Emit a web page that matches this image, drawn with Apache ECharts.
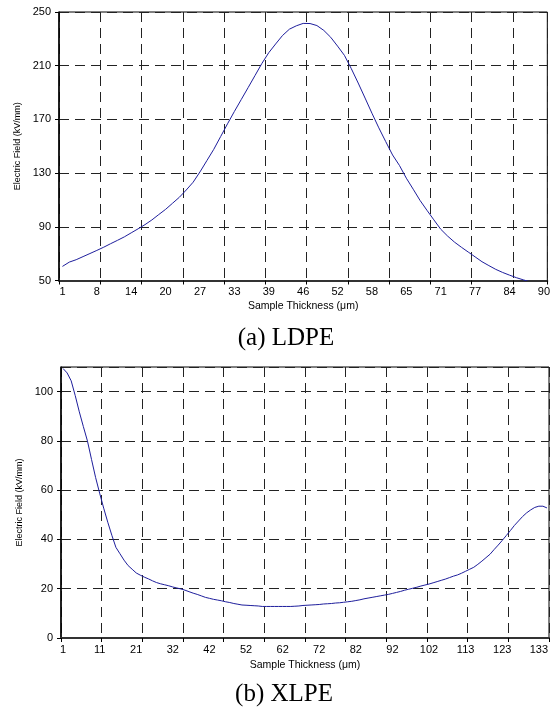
<!DOCTYPE html>
<html>
<head>
<meta charset="utf-8">
<script src="https://cdn.jsdelivr.net/npm/echarts@6/dist/echarts.min.js"></script>
<style>
html,body{margin:0;padding:0;background:#fff;}
#chart{width:553px;height:708px;}
</style>
</head>
<body>
<div id="chart"></div>
<script>
// ---- Data ----
const ldpeTickLabels = ['1','8','14','20','27','33','39','46','52','58','65','71','77','84','90'];
const xlpeTickLabels = ['1','11','21','32','42','52','62','72','82','92','102','113','123','133'];
const ldpeYTicks = [50, 90, 130, 170, 210, 250];
const xlpeYTicks = [0, 20, 40, 60, 80, 100];

// LDPE electric field (kV/mm), 71 samples across thickness 1..90 µm
const ldpeField = [
  60.5, 63.7, 65.5, 67.8, 70.1, 72.4, 74.8, 77.4, 79.9, 82.5,
  85.5, 88.5, 91.6, 95.1, 99.1, 103.0, 107.5, 112.0, 117.4, 123.2,
  130.9, 139.3, 147.7, 157.2, 166.7, 175.9, 184.8, 193.7, 202.7, 211.7,
  219.7, 226.2, 232.5, 237.2, 239.7, 241.5, 241.4, 239.9, 236.3, 231.2,
  224.6, 217.7, 207.8, 197.1, 185.9, 174.6, 163.7, 153.5, 143.5, 135.7,
  126.2, 118.0, 109.6, 102.3, 95.2, 88.2, 83.1, 78.6, 74.8, 71.2,
  67.6, 64.0, 61.1, 58.3, 56.0, 54.0, 52.1, 50.5, 49.0, 48.0,
  47.0
];

// XLPE electric field (kV/mm), 120 samples across thickness 1..~135 µm
const xlpeField = [
  109.4, 107.6, 104.4, 98.4, 91.8, 85.8, 80.0, 72.5, 65.2, 58.8,
  52.7, 47.0, 41.7, 36.8, 34.2, 31.6, 29.4, 27.9, 26.4, 25.5,
  24.7, 24.0, 23.2, 22.5, 22.0, 21.6, 21.2, 20.7, 20.3, 19.9,
  19.4, 18.8, 18.2, 17.7, 17.1, 16.5, 16.1, 15.7, 15.4, 15.1,
  14.7, 14.4, 14.0, 13.7, 13.4, 13.3, 13.2, 13.1, 13.0, 12.8,
  12.8, 12.8, 12.8, 12.8, 12.8, 12.8, 12.8, 12.9, 13.0, 13.2,
  13.3, 13.4, 13.5, 13.6, 13.8, 13.9, 14.0, 14.2, 14.3, 14.5,
  14.7, 14.9, 15.2, 15.5, 15.9, 16.2, 16.5, 16.8, 17.1, 17.4,
  17.7, 18.1, 18.5, 18.9, 19.4, 19.8, 20.2, 20.6, 21.1, 21.5,
  21.9, 22.4, 22.9, 23.4, 23.9, 24.5, 25.1, 25.6, 26.3, 27.1,
  27.9, 28.7, 29.9, 31.2, 32.6, 34.0, 35.9, 37.7, 39.6, 41.6,
  43.6, 45.7, 47.5, 49.3, 50.8, 52.0, 53.0, 53.5, 53.5, 52.8
];

const ldpeLabelStep = 5, ldpeGridStep = 6;
const xlpeLabelStep = 9, xlpeGridStep = 10;

const ldpeCats = ldpeField.map((_, i) => String(i));
const xlpeCats = xlpeField.map((_, i) => String(i));

const FONT = 'Liberation Sans, Arial, sans-serif';
const SERIF = '25px "Liberation Serif", "Times New Roman", serif';
const LINE_COLOR = '#1e1e9c';
const dashed = { show: true, lineStyle: { color: '#222', width: 1, type: [10, 6] } };

function xAxisCfg(gridIndex, cats, labels, labelStep, gridStep, nameGap) {
  return {
    type: 'category', gridIndex, data: cats, boundaryGap: true,
    name: 'Sample Thickness (\u03bcm)', nameLocation: 'middle', nameGap,
    nameTextStyle: { fontFamily: FONT, fontSize: 10.5, color: '#000' },
    axisLine: { show: true, lineStyle: { color: '#333', width: 2 } },
    axisTick: { show: true, interval: gridStep - 1, length: 4, lineStyle: { color: '#000' } },
    axisLabel: {
      interval: labelStep - 1, margin: 6, color: '#000', fontFamily: FONT, fontSize: 11,
      formatter: (v, idx) => (idx % labelStep === 0 ? labels[idx / labelStep] : '')
    },
    splitLine: Object.assign({ interval: gridStep - 1 }, dashed)
  };
}

function yAxisCfg(gridIndex, ticks, max) {
  return {
    type: 'value', gridIndex, min: ticks[0], max, interval: ticks[1] - ticks[0],
    name: 'Electric Field (kV/mm)', nameLocation: 'middle', nameGap: 36,
    nameTextStyle: { fontFamily: FONT, fontSize: 9, color: '#000' },
    axisLine: { show: true, lineStyle: { color: '#000', width: 1.5 } },
    axisTick: { show: true, length: 4, lineStyle: { color: '#000' } },
    axisLabel: { margin: 8, color: '#000', fontFamily: FONT, fontSize: 11, showMaxLabel: max === ticks[ticks.length - 1] },
    splitLine: dashed
  };
}

const chart = echarts.init(document.getElementById('chart'), null, { renderer: 'canvas' });
chart.setOption({
  animation: false,
  backgroundColor: '#fff',
  grid: [
    { left: 59, top: 12, width: 489, height: 268.5, show: true, borderColor: '#000', borderWidth: 1, backgroundColor: 'transparent' },
    { left: 61, top: 367, width: 488, height: 271, show: true, borderColor: '#000', borderWidth: 1, backgroundColor: 'transparent' }
  ],
  xAxis: [
    xAxisCfg(0, ldpeCats, ldpeTickLabels, ldpeLabelStep, ldpeGridStep, 20),
    xAxisCfg(1, xlpeCats, xlpeTickLabels, xlpeLabelStep, xlpeGridStep, 22)
  ],
  yAxis: [
    yAxisCfg(0, ldpeYTicks, 250),
    yAxisCfg(1, xlpeYTicks, 110)
  ],
  series: [
    { type: 'line', xAxisIndex: 0, yAxisIndex: 0, data: ldpeField, showSymbol: false, clip: true,
      lineStyle: { color: LINE_COLOR, width: 1 } },
    { type: 'line', xAxisIndex: 1, yAxisIndex: 1, data: xlpeField, showSymbol: false, clip: true,
      lineStyle: { color: LINE_COLOR, width: 1 } }
  ],
  graphic: [
    { type: 'text', x: 286, y: 338, style: { text: '(a) LDPE', font: SERIF, fill: '#000', textAlign: 'center', textVerticalAlign: 'middle' }, z: 10 },
    { type: 'text', x: 284, y: 694, style: { text: '(b) XLPE', font: SERIF, fill: '#000', textAlign: 'center', textVerticalAlign: 'middle' }, z: 10 }
  ]
});
</script>
</body>
</html>
